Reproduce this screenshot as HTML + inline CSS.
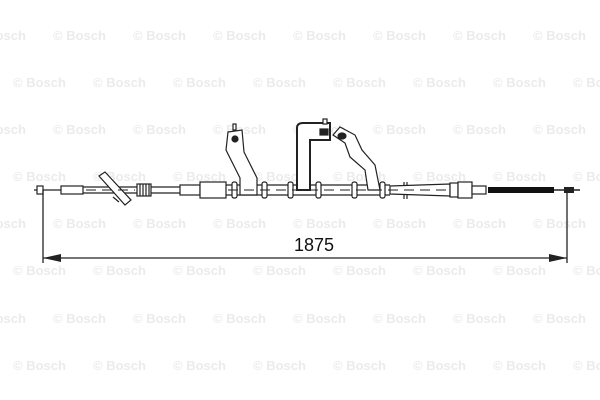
<!DOCTYPE html>
<html><head><meta charset="utf-8"><style>
html,body{margin:0;padding:0;background:#fff;}
svg{display:block;}
.wm{font-family:"Liberation Sans",sans-serif;font-size:13px;font-weight:bold;fill:#ebebeb;}
</style></head><body>
<svg width="600" height="400" viewBox="0 0 600 400" xmlns="http://www.w3.org/2000/svg">
<g class="wm">
<text x="-27" y="40">© Bosch</text><text x="53" y="40">© Bosch</text><text x="133" y="40">© Bosch</text><text x="213" y="40">© Bosch</text><text x="293" y="40">© Bosch</text><text x="373" y="40">© Bosch</text><text x="453" y="40">© Bosch</text><text x="533" y="40">© Bosch</text>
<text x="13" y="87">© Bosch</text><text x="93" y="87">© Bosch</text><text x="173" y="87">© Bosch</text><text x="253" y="87">© Bosch</text><text x="333" y="87">© Bosch</text><text x="413" y="87">© Bosch</text><text x="493" y="87">© Bosch</text><text x="573" y="87">© Bosch</text>
<text x="-27" y="134">© Bosch</text><text x="53" y="134">© Bosch</text><text x="133" y="134">© Bosch</text><text x="213" y="134">© Bosch</text><text x="293" y="134">© Bosch</text><text x="373" y="134">© Bosch</text><text x="453" y="134">© Bosch</text><text x="533" y="134">© Bosch</text>
<text x="13" y="181">© Bosch</text><text x="93" y="181">© Bosch</text><text x="173" y="181">© Bosch</text><text x="253" y="181">© Bosch</text><text x="333" y="181">© Bosch</text><text x="413" y="181">© Bosch</text><text x="493" y="181">© Bosch</text><text x="573" y="181">© Bosch</text>
<text x="-27" y="228">© Bosch</text><text x="53" y="228">© Bosch</text><text x="133" y="228">© Bosch</text><text x="213" y="228">© Bosch</text><text x="293" y="228">© Bosch</text><text x="373" y="228">© Bosch</text><text x="453" y="228">© Bosch</text><text x="533" y="228">© Bosch</text>
<text x="13" y="275">© Bosch</text><text x="93" y="275">© Bosch</text><text x="173" y="275">© Bosch</text><text x="253" y="275">© Bosch</text><text x="333" y="275">© Bosch</text><text x="413" y="275">© Bosch</text><text x="493" y="275">© Bosch</text><text x="573" y="275">© Bosch</text>
<text x="-27" y="323">© Bosch</text><text x="53" y="323">© Bosch</text><text x="133" y="323">© Bosch</text><text x="213" y="323">© Bosch</text><text x="293" y="323">© Bosch</text><text x="373" y="323">© Bosch</text><text x="453" y="323">© Bosch</text><text x="533" y="323">© Bosch</text>
<text x="13" y="370">© Bosch</text><text x="93" y="370">© Bosch</text><text x="173" y="370">© Bosch</text><text x="253" y="370">© Bosch</text><text x="333" y="370">© Bosch</text><text x="413" y="370">© Bosch</text><text x="493" y="370">© Bosch</text><text x="573" y="370">© Bosch</text>
</g>
<g stroke="#222" fill="#fff" stroke-width="1.2">
<!-- left end -->
<line x1="34" y1="190" x2="62" y2="190"/>
<rect x="37" y="186" width="6" height="8"/>
<rect x="61" y="186" width="22" height="8"/>
<line x1="83" y1="187" x2="137" y2="187"/><line x1="83" y1="193" x2="137" y2="193"/>
<!-- diagonal clamp -->
<polygon points="99,176 105,172 131,200 125,205"/>
<line x1="113" y1="197" x2="119" y2="202"/>
<!-- spring -->
<rect x="137" y="184" width="14" height="12" fill="#fff"/>
<path d="M140 184v12M143 184v12M146 184v12M149 184v12" />
<line x1="151" y1="187" x2="180" y2="187"/><line x1="151" y1="193" x2="180" y2="193"/>
<rect x="180" y="185" width="20" height="10"/>
<rect x="200" y="182" width="26" height="16"/>
<!-- main tube -->
<line x1="226" y1="185" x2="390" y2="185"/><line x1="226" y1="195" x2="390" y2="195"/>
<!-- bracket 1 -->
<polygon points="228,132 242,130 244,152 257,178 257,195 240,195 240,178 226,150"/>
<circle cx="235" cy="139" r="3" fill="#222"/>
<rect x="233" y="124" width="3" height="6"/>
<!-- bracket 2 -->
<path d="M297 190V128Q297 123 303 123H330V140H310V190Z" stroke-width="2"/>
<rect x="320" y="129" width="8" height="6" fill="#222"/>
<rect x="323" y="119" width="4" height="5"/>
<!-- bracket 3 -->
<path d="M333 135L340 127L355 135L362 150L375 165L380 190H368L365 170L350 157L345 143Z"/>
<ellipse cx="342" cy="136" rx="4" ry="3" fill="#222"/>
<!-- rings -->
<g>
<rect x="232" y="182" width="5" height="16" rx="2"/><rect x="262" y="182" width="5" height="16" rx="2"/>
<rect x="288" y="182" width="5" height="16" rx="2"/><rect x="316" y="182" width="5" height="16" rx="2"/>
<rect x="352" y="182" width="5" height="16" rx="2"/><rect x="380" y="182" width="5" height="16" rx="2"/>
</g>
<line x1="404" y1="182" x2="404" y2="199"/><line x1="407" y1="182" x2="407" y2="199"/>
<!-- right side -->
<polygon points="390,186 450,184 450,196 390,194"/>
<rect x="450" y="183" width="8" height="14"/>
<rect x="458" y="182" width="14" height="16"/>
<rect x="472" y="186" width="14" height="8"/>
</g>
<g stroke="#222" stroke-width="1" stroke-dasharray="10,6">
<line x1="86" y1="190" x2="135" y2="190"/>
<line x1="228" y1="190" x2="450" y2="190"/>
</g>
<rect x="488" y="187" width="66" height="6" fill="#111"/>
<line x1="554" y1="190" x2="580" y2="190" stroke="#222" stroke-width="1.5"/>
<rect x="564" y="187" width="10" height="6" fill="#222"/>
<!-- dimension -->
<g stroke="#222" stroke-width="1.3">
<line x1="43" y1="190" x2="43" y2="263"/>
<line x1="567" y1="193" x2="567" y2="263"/>
<line x1="43" y1="258" x2="567" y2="258"/>
</g>
<polygon points="43,258 61,254 61,262" fill="#222"/>
<polygon points="567,258 549,254 549,262" fill="#222"/>
<text x="314" y="251" text-anchor="middle" font-family="Liberation Sans, sans-serif" font-size="18" fill="#111">1875</text>
</svg>
</body></html>
